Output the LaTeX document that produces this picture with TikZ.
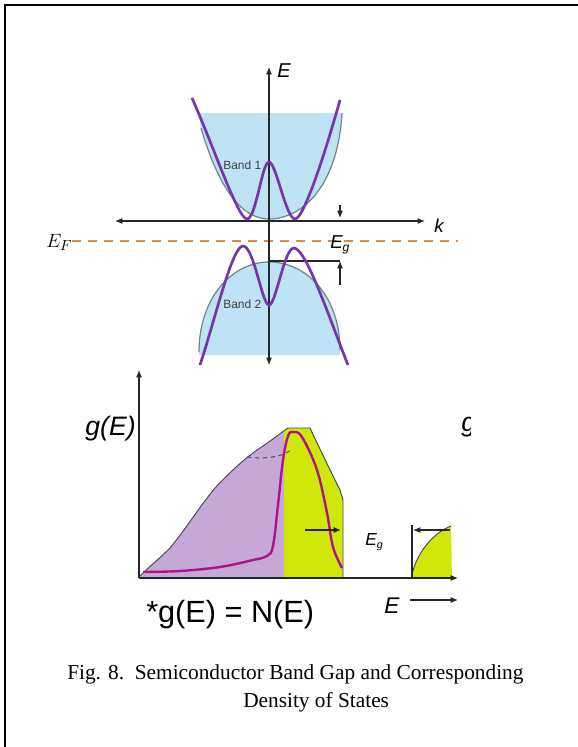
\documentclass[tikz,border=0pt]{standalone}
\usepackage{fontspec}
\setmainfont{Liberation Serif}
\newfontfamily\arialf{Liberation Sans}
\usetikzlibrary{arrows.meta}
\definecolor{bandblue}{HTML}{BDE3F5}
\definecolor{bandpurple}{HTML}{7436A8}
\definecolor{graycurve}{HTML}{6F8585}
\definecolor{efor}{HTML}{E58A3C}
\definecolor{lavfill}{HTML}{C5A8D5}
\definecolor{ygfill}{HTML}{CFE80A}
\definecolor{magcurve}{HTML}{B0128C}
\definecolor{outl}{HTML}{404858}
\tikzset{
  axisline/.style={line width=0.8pt, draw=black!85},
  tipend/.style={-{Latex[length=5.5pt,width=4.5pt]}},
  purplecurve/.style={draw=bandpurple, line width=2pt},
  magline/.style={draw=magcurve, line width=1.8pt},
  graythin/.style={draw=graycurve, line width=0.9pt},
  sanslab/.style={inner sep=0pt, font=\arialf\itshape},
}
\begin{document}
\begin{tikzpicture}[x=0.75pt,y=-0.75pt]
\useasboundingbox (0,0) rectangle (578,747);
% frame
\draw[line width=1.3pt] (5,747) -- (5,5) -- (578,5);

% ---------- band diagram ----------
% band 1 fill
\fill[bandblue] (200,113) -- (200,124) .. controls (220,192) and (243,219) .. (269,219)
   .. controls (303,219) and (338,185) .. (342,113) -- cycle;
% band 2 fill
\fill[bandblue] (199,355) -- (199,352) .. controls (199,298) and (232,262) .. (269,262)
   .. controls (308,262) and (340,298) .. (340,350) -- (340,355) -- cycle;
% gray parabolas
\draw[graythin] (201,128) .. controls (220,192) and (243,219) .. (269,219)
   .. controls (303,219) and (338,185) .. (342,113);
\draw[graythin] (199,352) .. controls (199,298) and (232,262) .. (269,262)
   .. controls (308,262) and (340,298) .. (340,350);
% Fermi level
\draw[efor, line width=1.6pt, dash pattern=on 7pt off 5pt] (72,241) -- (458,241);
% axes
\coordinate (Etop) at (269,67);
\coordinate (Ebot) at (269,365);
\coordinate (kleft) at (115,221);
\coordinate (kright) at (425,221);
\draw[axisline, {Latex[length=5.5pt,width=4.5pt]}-{Latex[length=5.5pt,width=4.5pt]}] (Ebot) -- (Etop);
\draw[axisline, {Latex[length=5.5pt,width=4.5pt]}-{Latex[length=5.5pt,width=4.5pt]}] (kleft) -- (kright);
% gap markers
\coordinate (vtop) at (270,261);
\coordinate (vtopR) at (340,261);
\coordinate (upA) at (340,285);
\coordinate (dnA) at (340,205);
\coordinate (dnB) at (340,218);
\draw[axisline] (vtop) -- (vtopR);
\draw[axisline, tipend] (upA) -- (vtopR);
\draw[axisline, tipend] (dnA) -- (dnB);
% purple bands
\draw[purplecurve] (192,98) .. controls (215,150) and (238,219) .. (247,219)
  .. controls (256,219) and (262,162) .. (269,162)
  .. controls (276,162) and (286,219) .. (295,219)
  .. controls (304,219) and (326,150) .. (340,100);
\draw[purplecurve] (200,365) .. controls (215,320) and (232,246) .. (243,246)
  .. controls (254,246) and (262,305) .. (269,305)
  .. controls (276,305) and (284,248) .. (294,248)
  .. controls (306,248) and (330,320) .. (348,365);
% labels
\node[sanslab, anchor=base west, font=\arialf\itshape\fontsize{15}{15}\selectfont] (lblE) at (277,77) {E};
\node[sanslab, anchor=base west, font=\arialf\itshape\fontsize{14}{14}\selectfont] (lblk) at (434,232) {k};
\node[sanslab, anchor=base west, font=\arialf\itshape\fontsize{14}{14}\selectfont] (lblEg) at (330,248) {E\raisebox{-0.35ex}{\fontsize{9}{9}\selectfont g}};
\node[inner sep=0pt, anchor=base west, font=\fontsize{9}{9}\selectfont\arialf, text=black!75] (band1) at (223,169) {Band 1};
\node[inner sep=0pt, anchor=base west, font=\fontsize{9}{9}\selectfont\arialf, text=black!75] (band2) at (223,308) {Band 2};
\node[inner sep=0pt, anchor=base west, font=\fontsize{15}{15}\selectfont] (lblEF) at (46,247) {$E_F$};

% ---------- density of states ----------
\begin{scope}
\clip (139,578) -- (140,576) .. controls (150,566) and (160,558) .. (170,548)
  .. controls (185,530) and (200,506) .. (215,488)
  .. controls (230,472) and (245,458) .. (260,448)
  .. controls (272,440) and (282,432) .. (288,428) -- (310,428)
  .. controls (318,445) and (330,470) .. (340,490) -- (343,500) -- (343,578) -- cycle;
\fill[lavfill] (130,420) rectangle (284,580);
\fill[ygfill] (284,420) rectangle (345,580);
\end{scope}
\draw[outl, line width=0.7pt] (140,576) .. controls (150,566) and (160,558) .. (170,548)
  .. controls (185,530) and (200,506) .. (215,488)
  .. controls (230,472) and (245,458) .. (260,448)
  .. controls (272,440) and (282,432) .. (288,428) -- (310,428)
  .. controls (318,445) and (330,470) .. (340,490) -- (343,500) -- (343,578);
\draw[outl, line width=0.7pt, dashed] (247,457) .. controls (262,459) and (282,458) .. (292,449);
% magenta curve
\draw[magline] plot[smooth, tension=0.6] coordinates {(143,572) (180,571) (220,567) (253,560) (267,556) (273,546) (278,505) (283,460) (288,436) (293,432) (302,437) (317,470) (327,513) (333,547) (342,568)};
% right piece
\fill[ygfill] (412,578) -- (412,574) .. controls (418,550) and (435,532) .. (451,526) -- (452,578) -- cycle;
\draw[outl, line width=0.7pt] (412,574) .. controls (418,550) and (435,532) .. (451,526);
\coordinate (rv1) at (412,525);
\coordinate (rv2) at (412,578);
\draw[axisline] (rv1) -- (rv2);
% axes
\coordinate (gorig) at (139,578);
\coordinate (gtop) at (139,370);
\coordinate (gright) at (458,578);
\draw[axisline, tipend] (gorig) -- (gtop);
\draw[axisline, tipend] (gorig) -- (gright);
% Eg arrows
\coordinate (ga1) at (305,530);
\coordinate (ga2) at (341,530);
\coordinate (gb1) at (450,530);
\coordinate (gb2) at (413,530);
\draw[axisline, tipend] (ga1) -- (ga2);
\draw[axisline, tipend] (gb1) -- (gb2);
\node[sanslab, anchor=base west, font=\arialf\itshape\fontsize{13}{13}\selectfont] (lblEg2) at (365,545) {E\raisebox{-0.35ex}{\fontsize{8}{8}\selectfont g}};
% labels
\node[sanslab, anchor=base east, font=\arialf\itshape\fontsize{20}{20}\selectfont] (lblg) at (136,435) {g(E)};
\node[inner sep=0pt, anchor=base west, font=\arialf\fontsize{23}{23}\selectfont] (lbleq) at (146,622) {*g(E) = N(E)};
\node[sanslab, anchor=base west, font=\arialf\itshape\fontsize{17}{17}\selectfont] (lblE2) at (384,613) {E};
\coordinate (ea1) at (410,600);
\coordinate (ea2) at (458,600);
\draw[axisline, tipend] (ea1) -- (ea2);
\begin{scope}
\clip (455,400) rectangle (470,450);
\node[sanslab, anchor=base west, font=\arialf\itshape\fontsize{20}{20}\selectfont] (lblgcut) at (461,431) {g};
\end{scope}

% ---------- caption ----------
\node[inner sep=0pt, anchor=base west, font=\fontsize{16}{16}\selectfont] (cap1) at (67,679) {Fig. 8.\ \ Semiconductor Band Gap and Corresponding};
\node[inner sep=0pt, anchor=base west, font=\fontsize{16}{16}\selectfont] (cap2) at (243,707) {Density of States};
\end{tikzpicture}
\end{document}
